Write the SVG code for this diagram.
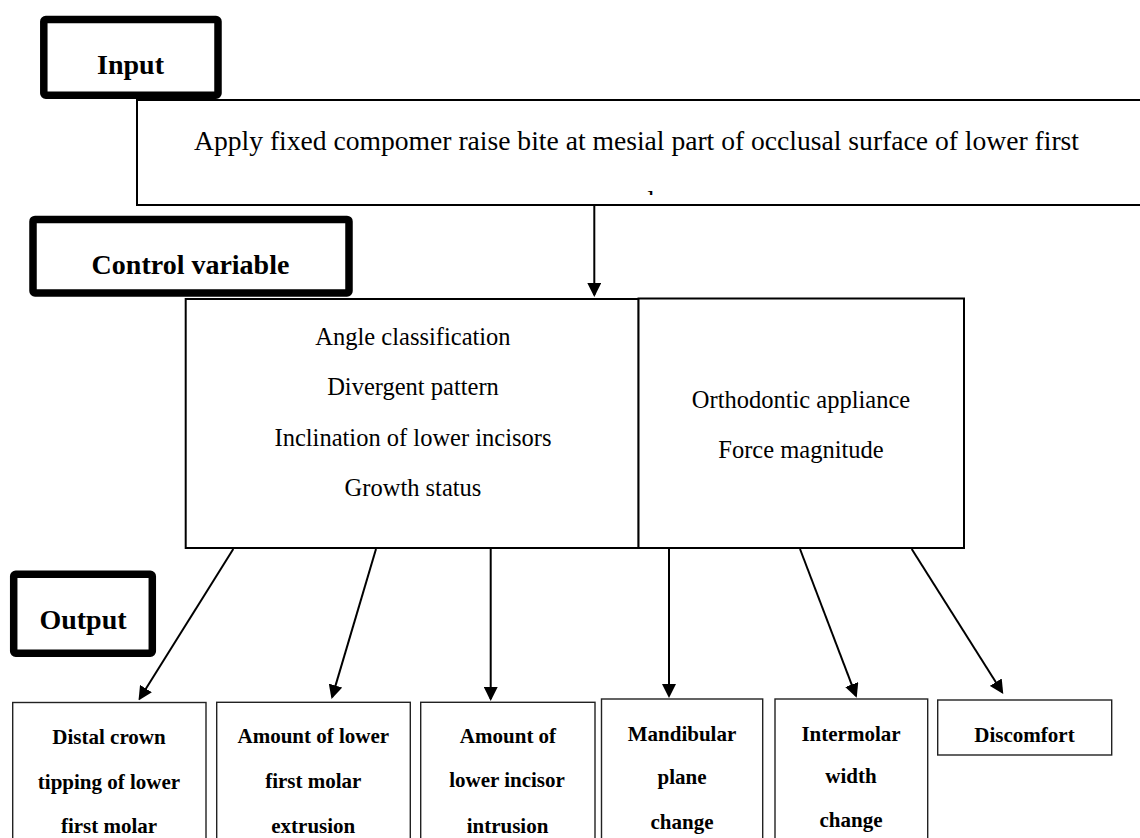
<svg xmlns="http://www.w3.org/2000/svg" width="1140" height="838" viewBox="0 0 1140 838">
<style>
.thick{fill:#fff;stroke:#000;stroke-width:7.5;stroke-linejoin:round}
.box{fill:#fff;stroke:#000;stroke-width:2}
.obox{fill:#fff;stroke:#222;stroke-width:1.4}
.lbl{font-family:"Liberation Serif","Times New Roman",serif;font-weight:bold;font-size:28px;text-anchor:middle;fill:#000}
.reg{font-family:"Liberation Serif","Times New Roman",serif;font-size:24.5px;text-anchor:middle;fill:#000}
.big{font-family:"Liberation Serif","Times New Roman",serif;font-size:27.6px;fill:#000}
.out{font-family:"Liberation Serif","Times New Roman",serif;font-weight:bold;font-size:21px;text-anchor:middle;fill:#000}
.conn{stroke:#000;stroke-width:2;fill:none;marker-end:url(#ah)}
</style>
<defs>
<marker id="ah" viewBox="0 0 14 14" refX="12" refY="7" markerWidth="14" markerHeight="14" markerUnits="userSpaceOnUse" orient="auto">
<path d="M0,0 L14,7 L0,14 z" fill="#000"/>
</marker>
<clipPath id="clipIn"><rect x="137" y="100" width="1003" height="95"/></clipPath>
</defs>
<rect width="1140" height="838" fill="#fff"/>

<g id="input-desc">
<path d="M1142,100 H137 V205 H1142" fill="#fff" stroke="#000" stroke-width="2"/>
<text class="big" x="636.5" y="150" text-anchor="middle">Apply fixed compomer raise bite at mesial part of occlusal surface of lower first</text>
<text class="big" x="612" y="210" clip-path="url(#clipIn)">molar</text>
</g>

<g id="input-label">
<rect class="thick" x="43.8" y="19.5" width="174.2" height="75.8" rx="2"/>
<text class="lbl" x="130.5" y="74">Input</text>
</g>

<g id="control-left">
<rect class="box" x="185.7" y="299" width="453" height="249"/>
<text class="reg" x="413" y="345">Angle classification</text>
<text class="reg" x="413" y="395">Divergent pattern</text>
<text class="reg" x="413" y="445.5">Inclination of lower incisors</text>
<text class="reg" x="413" y="496">Growth status</text>
</g>

<g id="control-right">
<rect class="box" x="638.5" y="298.5" width="325.5" height="249.5"/>
<text class="reg" x="801" y="407.5">Orthodontic appliance</text>
<text class="reg" x="801" y="457.5">Force magnitude</text>
</g>

<g id="control-label">
<rect class="thick" x="33" y="219.4" width="316" height="73.6" rx="2"/>
<text class="lbl" x="190.5" y="274">Control variable</text>
</g>

<g id="output-label">
<rect class="thick" x="13.7" y="574.3" width="138.6" height="79" rx="2"/>
<text class="lbl" x="83" y="629">Output</text>
</g>

<g id="out1">
<rect class="obox" x="12.7" y="702.5" width="193.3" height="150"/>
<text class="out" x="109" y="744.3">Distal crown</text>
<text class="out" x="109" y="789.3">tipping of lower</text>
<text class="out" x="109" y="833.3">first molar</text>
</g>
<g id="out2">
<rect class="obox" x="216.7" y="702.3" width="193.6" height="150"/>
<text class="out" x="313.3" y="743.3">Amount of lower</text>
<text class="out" x="313.3" y="788.3">first molar</text>
<text class="out" x="313.3" y="833.3">extrusion</text>
</g>
<g id="out3">
<rect class="obox" x="420.7" y="702.3" width="174.3" height="150"/>
<text class="out" x="508" y="742.7">Amount of</text>
<text class="out" x="507" y="787.3">lower incisor</text>
<text class="out" x="507.5" y="832.7">intrusion</text>
</g>
<g id="out4">
<rect class="obox" x="601.5" y="699" width="161.2" height="150"/>
<text class="out" x="682" y="740.7">Mandibular</text>
<text class="out" x="682" y="784.3">plane</text>
<text class="out" x="682" y="829.3">change</text>
</g>
<g id="out5">
<rect class="obox" x="775" y="699" width="152.7" height="150"/>
<text class="out" x="851" y="740.7">Intermolar</text>
<text class="out" x="851" y="783.3">width</text>
<text class="out" x="851" y="826.7">change</text>
</g>
<g id="out6">
<rect class="obox" x="937.7" y="700" width="174" height="55"/>
<text class="out" x="1024.5" y="742.3">Discomfort</text>
</g>

<g id="connectors">
<line class="conn" x1="594.3" y1="206" x2="594.3" y2="295"/>
<line class="conn" x1="233.3" y1="549" x2="139.6" y2="698.8"/>
<line class="conn" x1="376" y1="549" x2="332.1" y2="697.1"/>
<line class="conn" x1="490.7" y1="549" x2="490.7" y2="699"/>
<line class="conn" x1="669" y1="549" x2="669" y2="696"/>
<line class="conn" x1="800" y1="549" x2="856" y2="695.8"/>
<line class="conn" x1="911.7" y1="549" x2="1002.2" y2="692.3"/>
</g>
</svg>
